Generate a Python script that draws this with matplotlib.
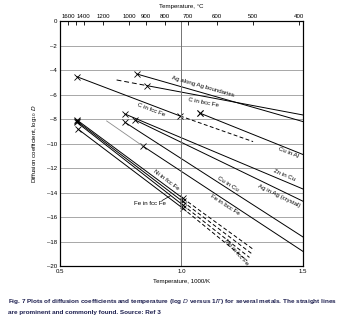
import matplotlib
matplotlib.use("Agg")
import matplotlib.pyplot as plt
import numpy as np

plt.rcParams['font.family'] = ['Liberation Sans', 'DejaVu Sans']

# ---- data (x = 1000/K, y = log10 D) ----
names = ["Ag along Ag boundaries", "C in bcc Fe", "C in fcc Fe", "Cu in Al",
         "Zn in Cu", "Ag in Ag (crystal)", "Cu in Cu", "Fe in bcc Fe",
         "Ni in fcc Fe", "Fe in fcc Fe a", "Fe in fcc Fe b", "Mn in fcc Fe"]
# start point (with marker), break point, end point
x_start = [0.816, 0.857, 0.569, 1.076, 0.767, 0.809, 0.767, 0.840, 0.569, 0.569, 0.569, 0.573]
y_start = [-4.30, -5.25, -4.52, -7.50, -7.57, -8.06, -8.25, -10.18, -8.05, -8.15, -8.25, -8.79]
x_mid = [1.5, 1.5, 0.994, 1.5, 1.5, 1.5, 1.5, 1.5, 1.005, 1.005, 1.005, 1.005]
y_mid = [-8.19, -7.65, -7.73, -10.88, -13.70, -14.70, -17.62, -18.80, -14.45, -14.72, -15.00, -15.27]
x_end = [None, None, 1.295, None, None, None, None, None, 1.30, 1.29, 1.28, 1.27]
y_end = [None, None, -9.83, None, None, None, None, None, -18.70, -19.00, -19.30, -19.55]
mid_marker = [False, False, True, False, False, False, False, False, True, True, True, True]

# dashed/gray extrapolations before the start point
pre_name = ["C in bcc Fe", "Fe in bcc Fe"]
pre_x = [0.733, 0.692]
pre_y = [-4.79, -8.14]
pre_style = ["dashed", "gray"]
extra_marker_x = [1.076]
extra_marker_y = [-7.51]

top_temps = [1600, 1400, 1200, 1000, 900, 800, 700, 600, 500, 400]
top_minor = [1500]
y_ticks = [0, -2, -4, -6, -8, -10, -12, -14, -16, -18, -20]
x_ticks = [0.5, 1.0, 1.5]

# label text, position, rotation
lab_text = ["Ag along Ag boundaries", "C in bcc Fe", "C in fcc Fe", "Cu in Al",
            "Zn in Cu", "Ag in Ag (crystal)", "Cu in Cu", "Fe in bcc Fe",
            "Ni in fcc Fe", "Fe in fcc Fe", "Mn in fcc Fe"]
lab_x = [1.087, 1.092, 0.877, 1.44, 1.425, 1.40, 1.192, 1.18, 0.938, 0.870, 1.225]
lab_y = [-5.35, -6.60, -7.22, -10.72, -12.55, -14.30, -13.28, -15.0, -13.0, -14.9, -18.9]
lab_rot = [-16, -11, -21, -22, -23, -26, -32, -33, -37, 0, -48]

fig = plt.figure(figsize=(3.43, 3.24), dpi=100)
ax = fig.add_axes([0.175, 0.179, 0.708, 0.755])
lw = 0.7
fs = 4.4

ax.set_xlim(0.5, 1.5)
ax.set_ylim(-20, 0)

for i in range(len(names)):
    ax.plot([x_start[i], x_mid[i]], [y_start[i], y_mid[i]], color='black', lw=lw)
    ax.plot([x_start[i]], [y_start[i]], marker='x', color='black', ms=4.5, mew=0.6)
    if mid_marker[i]:
        ax.plot([x_mid[i]], [y_mid[i]], marker='x', color='black', ms=4.5, mew=0.6)
    if x_end[i] is not None:
        ax.plot([x_mid[i], x_end[i]], [y_mid[i], y_end[i]], color='black', lw=lw,
                linestyle=(0, (4, 2.5)))

for j, nm in enumerate(pre_name):
    i = names.index(nm)
    if pre_style[j] == "dashed":
        ax.plot([pre_x[j], x_start[i]], [pre_y[j], y_start[i]], color='black', lw=lw,
                linestyle=(0, (5, 3)))
    else:
        ax.plot([pre_x[j], x_start[i]], [pre_y[j], y_start[i]], color='0.55', lw=0.6)

ax.plot(extra_marker_x, extra_marker_y, 'x', color='black', ms=4.5, mew=0.6)

for t, x, y, r in zip(lab_text, lab_x, lab_y, lab_rot):
    ax.text(x, y, t, fontsize=fs, rotation=r, ha='center', va='center',
            rotation_mode='anchor')
# leader for "Fe in fcc Fe"
ax.plot([0.92, 0.955], [-14.65, -14.25], color='black', lw=0.5)

# grid
ax.set_yticks(y_ticks)
ax.set_yticklabels([str(v) if v == 0 else "\u2013" + str(-v) for v in y_ticks], fontsize=fs)
ax.set_xticks(x_ticks)
ax.set_xticklabels(["0.5", "1.0", "1.5"], fontsize=fs)
ax.grid(axis='y', color='0.6', lw=0.6)
ax.axvline(1.0, color='0.45', lw=0.7)
ax.tick_params(axis='both', length=0, pad=2)
for s in ax.spines.values():
    s.set_linewidth(0.8)

ax.set_xlabel("Temperature, 1000/K", fontsize=fs, labelpad=4)
ax.set_ylabel("Diffusion coefficient, log$_{10}$ $D$", fontsize=fs, labelpad=6)

ax2 = ax.twiny()
ax2.set_xlim(ax.get_xlim())
ax2.set_xticks([1000.0 / (t + 273) for t in top_temps])
ax2.set_xticklabels([str(t) for t in top_temps], fontsize=fs)
ax2.set_xticks([1000.0 / (t + 273) for t in top_minor], minor=True)
ax2.tick_params(axis='x', which='both', direction='in', length=3, width=0.6, pad=2)
ax2.set_xlabel("Temperature, \u00b0C", fontsize=fs, labelpad=4)

fig.text(0.022, 0.070,
         "Fig. 7 Plots of diffusion coefficients and temperature (log $\\it{D}$ versus 1/$\\it{T}$) for several metals. The straight lines",
         fontsize=4.55, fontweight='bold', color='#1e2050', ha='left', va='center')
fig.text(0.022, 0.037, "are prominent and commonly found. Source: Ref 3",
         fontsize=4.55, fontweight='bold', color='#1e2050', ha='left', va='center')

fig.savefig("out.png", dpi=100)
